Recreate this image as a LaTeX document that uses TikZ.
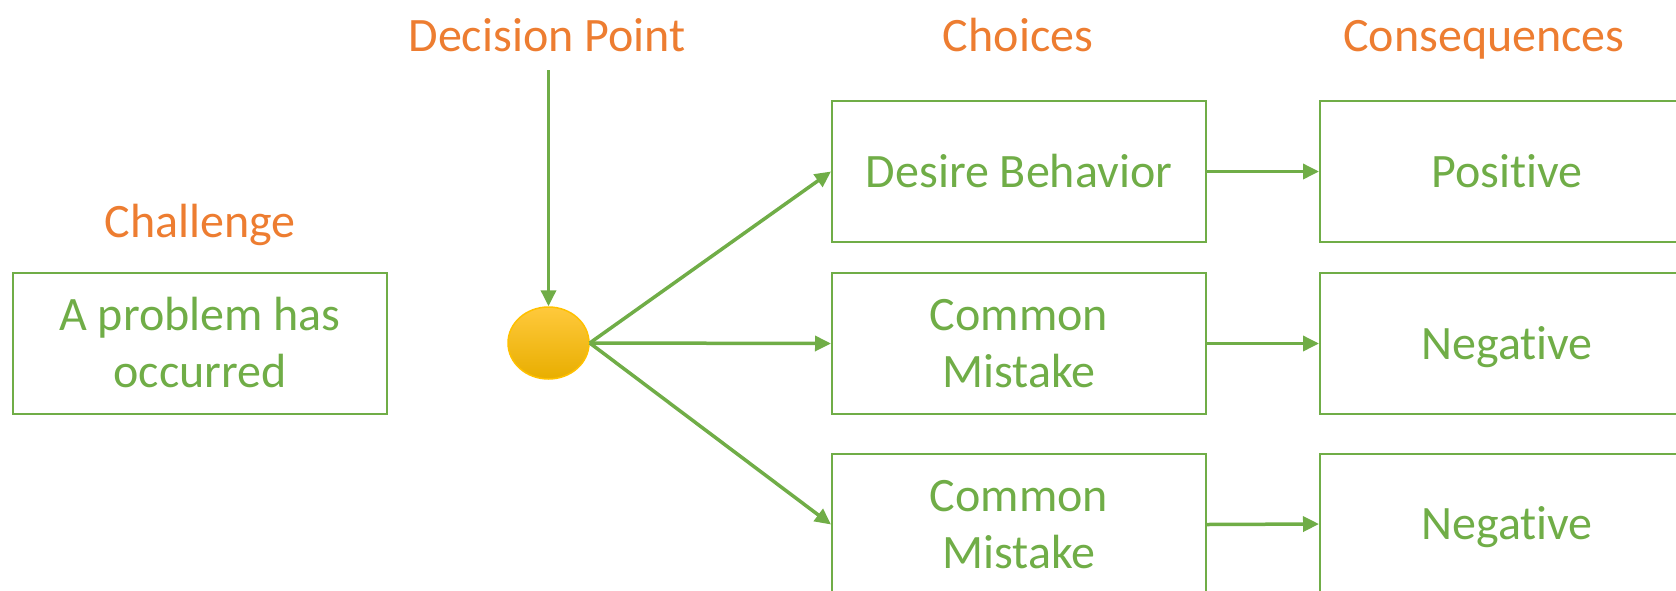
\documentclass[tikz,border=0pt]{standalone}
\usepackage{fontspec}
\setmainfont[Ligatures=NoCommon]{Carlito}
\usetikzlibrary{arrows.meta,shapes.geometric}
\definecolor{orng}{HTML}{ED7D31}
\definecolor{grn}{HTML}{70AD47}
\definecolor{goldedge}{HTML}{FFC000}
\definecolor{goldtop}{HTML}{FFC93C}
\definecolor{goldbot}{HTML}{E8AE00}
\begin{document}
\begin{tikzpicture}[x=1pt,y=-1pt,
  lbl/.style={text=orng, font=\fontsize{48}{57}\selectfont, anchor=base, inner sep=0pt},
  box/.style={draw=grn, line width=2pt, text=grn, font=\fontsize{48}{57}\selectfont,
    align=center, minimum width=374pt, minimum height=141pt, inner sep=0pt, anchor=center},
  onebox/.style={box, text height=31pt, text depth=0pt},
  arr/.style={draw=grn, line width=3.5pt, -{Triangle[length=16pt,width=15pt]}}]
\path[use as bounding box] (0,0) rectangle (1676,590);
\clip (0,0) rectangle (1676,590);
% labels
\node[lbl] (lch) at (200,237) {Challenge};
\node[lbl] (ldp) at (547,51) {Decision Point};
\node[lbl] (lco) at (1018,51) {Choices};
\node[lbl] (lcs) at (1484,51) {Consequences};
% boxes
\node[box] (ch) at (200,343) {A problem has\\occurred};
\node[onebox] (db) at (1019,171.5) {Desire Behavior};
\node[box] (cm1) at (1019,343.5) {Common\\Mistake};
\node[box] (cm2) at (1019,524.5) {Common\\Mistake};
\node[onebox] (pos) at (1507,171.5) {Positive};
\node[onebox] (neg1) at (1507,343.5) {Negative};
\node[onebox] (neg2) at (1507,524) {Negative};
% decision point
\node[ellipse, minimum width=81pt, minimum height=72pt, inner sep=0pt,
  draw=goldedge, line width=1.5pt, top color=goldtop, bottom color=goldbot] (dp) at (548.5,343) {};
\coordinate (dtop) at (548.5,70);
% connectors
\draw[arr] (dtop) -- (dp.north);
\draw[arr] (dp.east) -- (db.west);
\draw[arr] (dp.east) -- (cm1.west);
\draw[arr] (dp.east) -- (cm2.west);
\draw[arr] (db.east) -- (pos.west);
\draw[arr] (cm1.east) -- (neg1.west);
\draw[arr] (cm2.east) -- (neg2.west);
\end{tikzpicture}
\end{document}
